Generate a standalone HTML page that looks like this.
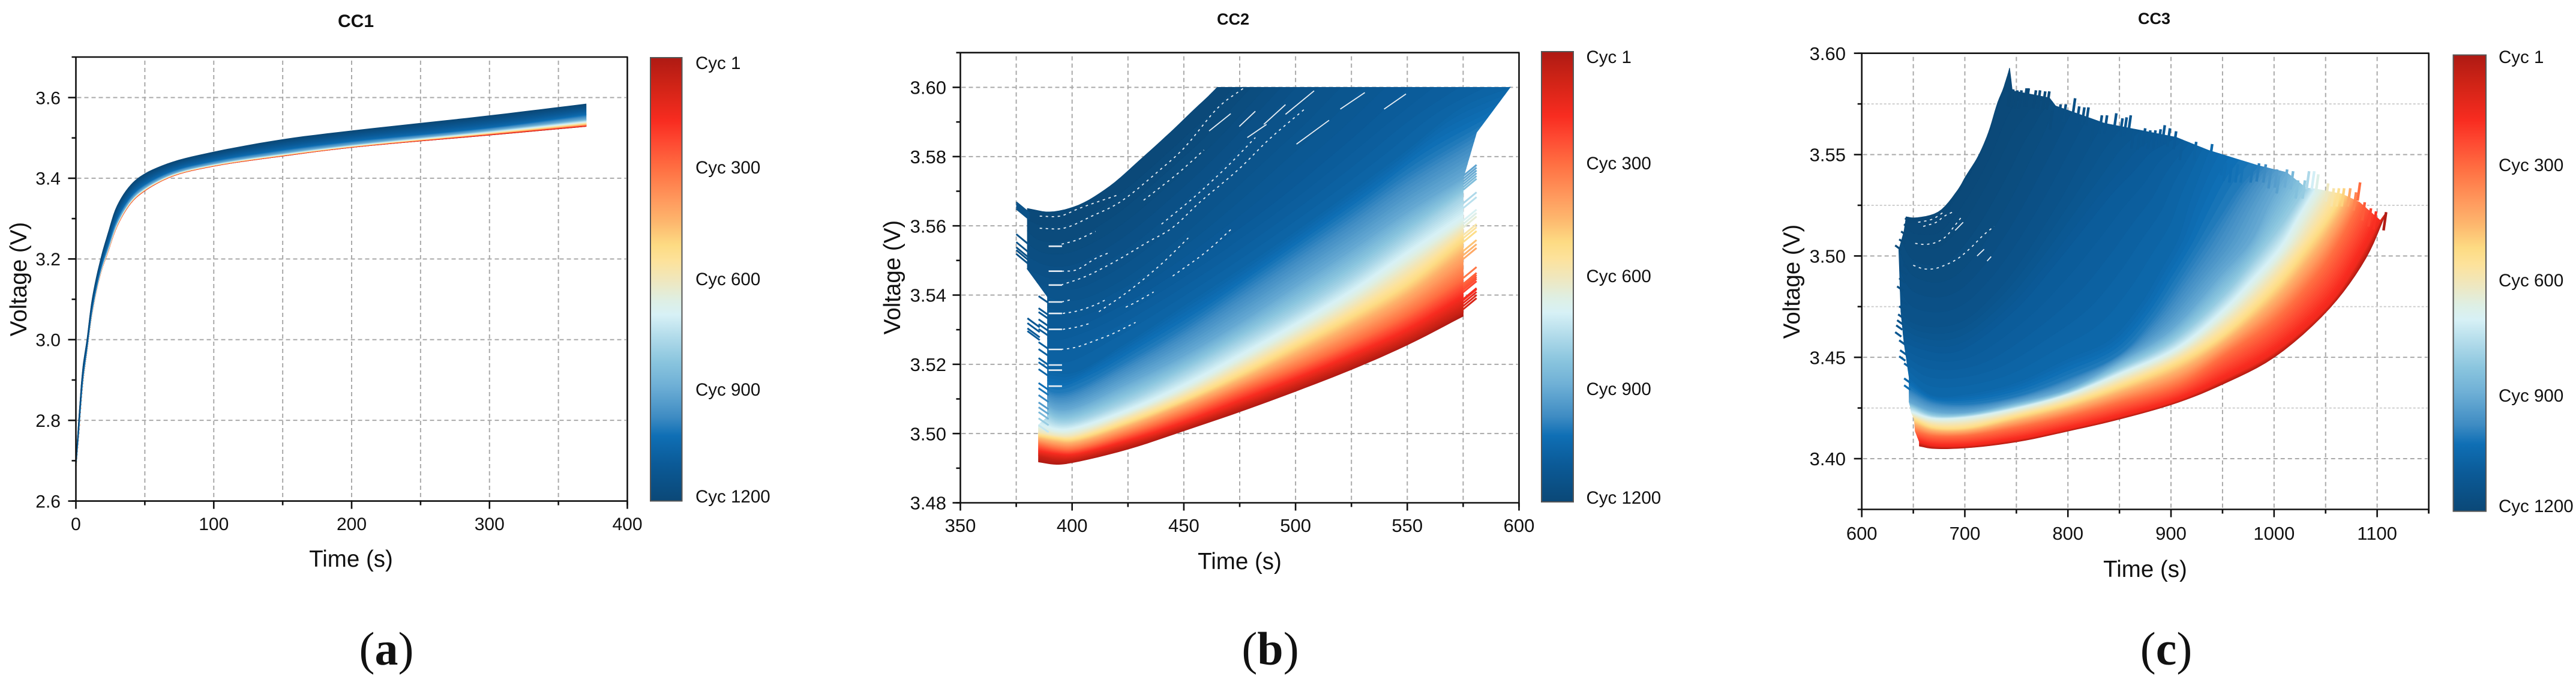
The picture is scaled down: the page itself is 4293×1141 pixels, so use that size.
<!DOCTYPE html>
<html lang="en">
<head>
<meta charset="utf-8">
<title>CC1, CC2, CC3 voltage curves by cycle</title>
<style>
html,body{margin:0;padding:0;background:#fff;width:4293px;height:1141px;overflow:hidden}
svg{display:block}
text{font-family:"Liberation Sans",Arial,sans-serif;fill:#111}
.title{font-weight:700;text-anchor:middle}
.axt{font-size:38.5px;text-anchor:middle}
.leg{font-size:29.5px}
.cap{font-family:"Liberation Serif",serif;font-size:78px;text-anchor:middle}
</style>
</head>
<body>
<svg id="fig" xmlns="http://www.w3.org/2000/svg" width="4293" height="1141" viewBox="0 0 4293 1141">
  <defs>
    <linearGradient id="cbar" x1="0" y1="0" x2="0" y2="1"></linearGradient>
  </defs>
  <rect x="0" y="0" width="4293" height="1141" fill="#fff"/>

  <g id="panelA"></g>
  <g id="panelB"></g>
  <g id="panelC"></g>

  <text class="title" x="593" y="45" font-size="30">CC1</text>
  <text class="title" x="2055" y="41" font-size="27">CC2</text>
  <text class="title" x="3590" y="40" font-size="27">CC3</text>

  <text class="axt" x="585" y="944">Time (s)</text>
  <text class="axt" x="2066" y="948">Time (s)</text>
  <text class="axt" x="3575" y="961">Time (s)</text>
  <text class="axt" transform="translate(44 465) rotate(-90)">Voltage (V)</text>
  <text class="axt" transform="translate(1500 462) rotate(-90)">Voltage (V)</text>
  <text class="axt" transform="translate(2999 469) rotate(-90)">Voltage (V)</text>

  <rect x="1084" y="96" width="52.5" height="738.5" fill="url(#cbar)" stroke="#555" stroke-width="2"/>
  <rect x="2569" y="86" width="53" height="750" fill="url(#cbar)" stroke="#555" stroke-width="2"/>
  <rect x="4088.5" y="91.6" width="54.5" height="760" fill="url(#cbar)" stroke="#555" stroke-width="2"/>

  <g>
    <text class="leg" x="1159" y="115">Cyc 1</text>
    <text class="leg" x="1159" y="289">Cyc 300</text>
    <text class="leg" x="1159" y="475">Cyc 600</text>
    <text class="leg" x="1159" y="659">Cyc 900</text>
    <text class="leg" x="1159" y="837">Cyc 1200</text>
  </g>
  <g>
    <text class="leg" x="2643.5" y="105">Cyc 1</text>
    <text class="leg" x="2643.5" y="282">Cyc 300</text>
    <text class="leg" x="2643.5" y="470">Cyc 600</text>
    <text class="leg" x="2643.5" y="658">Cyc 900</text>
    <text class="leg" x="2643.5" y="839">Cyc 1200</text>
  </g>
  <g>
    <text class="leg" x="4164" y="105">Cyc 1</text>
    <text class="leg" x="4164" y="285">Cyc 300</text>
    <text class="leg" x="4164" y="477">Cyc 600</text>
    <text class="leg" x="4164" y="669">Cyc 900</text>
    <text class="leg" x="4164" y="853">Cyc 1200</text>
  </g>

  <text class="cap" x="644" y="1107">(<tspan font-weight="700">a</tspan>)</text>
  <text class="cap" x="2117" y="1107">(<tspan font-weight="700">b</tspan>)</text>
  <text class="cap" x="3610" y="1107">(<tspan font-weight="700">c</tspan>)</text>
</svg>

<script>
/* ---------- colour scale (fraction along the colour bar, top to bottom) ---------- */
const cmapPos = [0,0.06,0.143,0.192,0.25,0.326,0.37,0.423,0.459,0.503,0.548,0.58,0.635,0.686,0.739,0.81,0.853,0.918,1];
const cmapHex = ['#ae1a14','#ce2316','#f82c20','#fe4a32','#ff6f42','#ff9c5f','#fdb66d','#fddb83','#fde29b','#efe7be','#deefe4','#d7f1f6','#aed9e9','#8ac5de','#6fb0d6','#3f8cc3','#0f6fb5','#0b5a97','#0b4877'];

/* ---------- CC1 data ---------- */
const cc1XTicks = [0,100,200,300,400];
const cc1YTicks = [2.6,2.8,3.0,3.2,3.4,3.6];
const cc1Cycles = [1,300,520,680,900,1050,1200];
const cc1Time = [0,2,5,8,12,18,23,30,40,50,70,100,150,200,300,370];
const cc1V0001 = [2.68,2.76,2.89,2.97,3.07,3.165,3.215,3.282,3.339,3.369,3.405,3.43,3.455,3.4765,3.507,3.5286];
const cc1V0300 = [2.6806,2.7612,2.8912,2.9709,3.071,3.166,3.2164,3.2835,3.3404,3.3703,3.406,3.431,3.4562,3.4777,3.5095,3.5315];
const cc1V0520 = [2.6812,2.7624,2.8924,2.9718,3.0721,3.1671,3.2177,3.285,3.3417,3.3715,3.4071,3.4321,3.4575,3.479,3.5115,3.5355];
const cc1V0680 = [2.682,2.764,2.894,2.973,3.0735,3.1685,3.2195,3.287,3.3435,3.3732,3.4085,3.4335,3.4591,3.4806,3.5145,3.54];
const cc1V0900 = [2.684,2.768,2.898,2.976,3.077,3.172,3.224,3.292,3.348,3.3774,3.412,3.437,3.4632,3.4847,3.5195,3.547];
const cc1V1050 = [2.6884,2.7768,2.9068,2.9826,3.0847,3.1797,3.2339,3.303,3.3579,3.3866,3.4197,3.4447,3.4722,3.4937,3.5272,3.56];
const cc1V1200 = [2.7,2.8,2.93,3.0,3.105,3.2,3.26,3.332,3.384,3.411,3.44,3.465,3.496,3.5175,3.555,3.584];

/* ---------- CC2 data ---------- */
const cc2XTicks = [350,400,450,500,550,600];
const cc2YTicks = [3.48,3.50,3.52,3.54,3.56,3.58,3.60];
const cc2Cycles = [1,60,150,300,420,520,600,680,780,900,1000,1060,1100,1130,1150,1180,1200];
const cc2TLow = [385,393,400,425,450,475,500,525,550,575];
const cc2TMid = [389,393,400,425,450,475,500,525,550,575];
const cc2V0001 = [3.4918,3.4911,3.4916,3.4955,3.5008,3.5063,3.5122,3.5185,3.5256,3.5339];
const cc2V0060 = [3.4935,3.4925,3.4925,3.4965,3.5017,3.5075,3.5135,3.52,3.527,3.5355];
const cc2V0150 = [3.4948,3.494,3.4938,3.4978,3.503,3.5092,3.5155,3.5222,3.5295,3.539];
const cc2V0300 = [3.497,3.4958,3.4955,3.5,3.5058,3.5125,3.519,3.5262,3.5345,3.545];
const cc2V0420 = [3.4985,3.4975,3.4972,3.502,3.5082,3.515,3.5225,3.5305,3.5395,3.5515];
const cc2V0520 = [3.4997,3.4988,3.4985,3.5035,3.5098,3.5172,3.5255,3.534,3.5435,3.5564];
const cc2V0600 = [3.5005,3.4995,3.4995,3.505,3.5115,3.5195,3.528,3.537,3.5475,3.5592];
const cc2V0680 = [3.5025,3.501,3.5012,3.5065,3.5135,3.522,3.531,3.5405,3.5515,3.562];
const cc2V0780 = [3.5048,3.5035,3.5035,3.5095,3.5175,3.5265,3.5355,3.5455,3.557,3.5685];
const cc2V0900 = [3.5082,3.507,3.5072,3.5145,3.5225,3.532,3.5425,3.553,3.564,3.5738];
const cc2T1000 = [389,393,400,425,450,475,500,525,550,581];
const cc2V1000 = [3.5125,3.5118,3.5125,3.521,3.5305,3.5415,3.5525,3.5635,3.575,3.587];
const cc2T1060 = [389,400,425,450,475,500,525,550,575,596];
const cc2V1060 = [3.518,3.5175,3.5265,3.537,3.5475,3.5585,3.57,3.582,3.5945,3.6];
const cc2T1100 = [389,392,400,425,450,470,490,510,530,550];
const cc2V1100 = [3.5305,3.5303,3.5305,3.538,3.548,3.557,3.5665,3.577,3.588,3.6];
const cc2T1130 = [389,395,405,420,435,450,470,490,505,520];
const cc2V1130 = [3.5395,3.5385,3.539,3.5435,3.55,3.5575,3.569,3.581,3.59,3.6];
const cc2T1150 = [380,390,400,415,430,450,465,480,490,500];
const cc2V1150 = [3.5475,3.545,3.545,3.5495,3.556,3.567,3.576,3.586,3.593,3.6];
const cc2T1180 = [380,385,395,405,420,435,450,460,470,480];
const cc2V1180 = [3.5585,3.556,3.5555,3.5575,3.5635,3.5715,3.58,3.586,3.593,3.6];
const cc2T1200 = [380,390,403,417,430,444,455,460,463,465];
const cc2V1200 = [3.565,3.564,3.566,3.5715,3.5788,3.587,3.5938,3.5968,3.5987,3.6];
const cc2LeftToothA = [3.5668,3.5662,3.5656,3.565,3.5576,3.5553,3.5538,3.553,3.5519];
const cc2LeftToothB = [3.5333,3.5319,3.5304,3.5296];
const cc2LeftToothC = [3.5397,3.5362,3.5351,3.533,3.5316,3.5302,3.5264,3.5244,3.5218,3.5206,3.5186,3.5146,3.5131,3.5111,3.509,3.5076,3.5062,3.5044,3.5024];
const cc2RightTooth = [3.5359,3.5368,3.5377,3.5385,3.5388,3.5408,3.5415,3.542,3.5426,3.5432,3.5449,3.5504,3.5515,3.5527,3.5553,3.5564,3.5573,3.5595,3.5605,3.5615,3.5651,3.5665,3.5704,3.5712,3.572,3.5728,3.5736,3.5744];
const cc2FlatGaps = [3.5541,3.5469,3.5429,3.538,3.5347,3.5301,3.5243,3.5198,3.5183,3.5137];
const cc2DottedGaps = [
  [395,3.5429,406.1,3.5454,419.5,3.5498,433.8,3.5553,444.6,3.5593,457.1,3.5668,475,3.5766,488,3.5849,504,3.5937],
  [395.3,3.5547,401.6,3.5558,410.5,3.5584],
  [395.3,3.5469,401.6,3.5472,410.5,3.5506,416,3.5521],
  [395.3,3.538,400.3,3.5388],
  [395.8,3.5347,401.6,3.5353,409.7,3.537,414.6,3.5385],
  [395.8,3.5301,401.6,3.5307,407.9,3.5318],
  [395,3.5243,401.6,3.5249,410.5,3.5269,417.7,3.5287,428.4,3.5321],
  [424,3.5365,428.4,3.5379,436.5,3.5409],
  [385.5,3.5593,396.2,3.5593,408.8,3.5628,421.3,3.5668,439.2,3.5761,450,3.5824,466,3.5946,476.8,3.5998],
  [385.5,3.5628,394.5,3.5628,403.4,3.5651,421.3,3.5691],
  [432,3.5674,448,3.5755,459,3.5819],
  [440,3.5605,455,3.5685,470,3.5775,482,3.5855],
  [412,3.5352,425,3.541,440,3.549,452,3.5565],
  [445,3.5455,460,3.5525,472,3.5595]
];
const cc2SlashGaps = [
  [539.6,3.5937,549.4,3.5981],[520,3.5937,531,3.5985],[495.5,3.5922,508.3,3.599],
  [485.8,3.5893,495.5,3.595],[474.8,3.5887,482,3.5931],[500.4,3.5836,515,3.5905],
  [461.3,3.5874,471,3.5924],[478.4,3.5855,487,3.5893]
];

/* ---------- CC3 data ---------- */
const cc3XTicks = [600,700,800,900,1000,1100];
const cc3YTicks = [3.40,3.45,3.50,3.55,3.60];
const cc3Cycles = [1,150,300,520,680,800,900,1000,1050,1100,1140,1170,1190,1197,1200];
const cc3T0001 = [656,668,700,750,800,850,907,950,1000,1054,1089,1109];
const cc3V0001 = [3.4062,3.4051,3.4053,3.4083,3.4136,3.4195,3.4278,3.4367,3.45,3.4743,3.4989,3.5216];
const cc3T0150 = [656,668,700,750,800,850,907,950,1000,1054,1086,1103];
const cc3V0150 = [3.4082,3.4066,3.4064,3.4095,3.4147,3.4207,3.429,3.4388,3.4525,3.4765,3.5015,3.5175];
const cc3T0300 = [652,668,700,750,800,850,907,950,1000,1045,1066,1083];
const cc3V0300 = [3.4135,3.4115,3.4115,3.4155,3.421,3.4278,3.4367,3.4505,3.468,3.493,3.5098,3.5264];
const cc3T0520 = [651,668,700,750,800,850,907,950,1000,1035,1054,1066];
const cc3V0520 = [3.4195,3.4158,3.4154,3.421,3.4273,3.4358,3.4477,3.461,3.4845,3.5068,3.5205,3.5305];
const cc3T0680 = [648,668,700,750,800,850,907,950,977,1006,1023,1041];
const cc3V0680 = [3.423,3.42,3.4204,3.4249,3.4317,3.4417,3.4545,3.472,3.4861,3.5028,3.5176,3.533];
const cc3T0800 = [647,668,700,750,800,850,900,950,977,1006,1020,1031];
const cc3V0800 = [3.426,3.4215,3.4215,3.4262,3.433,3.4445,3.4575,3.48,3.4959,3.5146,3.525,3.5335];
const cc3T0900 = [646,668,700,750,800,850,900,950,977,996,1005,1012];
const cc3V0900 = [3.428,3.4235,3.4228,3.4278,3.4346,3.4477,3.4635,3.4915,3.5068,3.5264,3.535,3.5412];
const cc3T1000 = [646,668,700,750,800,850,880,907,930,948,967,985];
const cc3V1000 = [3.4345,3.4285,3.4269,3.4308,3.4397,3.4515,3.4675,3.4875,3.5055,3.5195,3.5344,3.5445];
const cc3T1050 = [646,668,700,750,800,840,870,890,907,918,930,937];
const cc3V1050 = [3.44,3.4315,3.4317,3.4376,3.4494,3.4585,3.476,3.493,3.5085,3.5264,3.543,3.552];
const cc3T1100 = [641,655,680,700,750,790,820,845,865,880,895,905];
const cc3V1100 = [3.4575,3.4545,3.452,3.4545,3.474,3.4975,3.5165,3.532,3.5425,3.551,3.5555,3.5585];
const cc3T1140 = [638,650,675,700,730,755,780,795,810,820,828,835];
const cc3V1140 = [3.4725,3.467,3.465,3.4685,3.482,3.498,3.5175,3.53,3.544,3.553,3.56,3.5655];
const cc3T1170 = [636,648,672,690,710,730,750,765,775,782,785,788];
const cc3V1170 = [3.503,3.491,3.487,3.49,3.5005,3.5155,3.5335,3.549,3.559,3.567,3.5705,3.574];
const cc3T1190 = [641,650,672,688,705,720,735,748,758,766,775,782];
const cc3V1190 = [3.512,3.506,3.504,3.51,3.5215,3.5345,3.549,3.562,3.569,3.574,3.577,3.578];
const cc3T1197 = [642.5,651,674,692,700,712,722,731,737,740,743,746];
const cc3V1197 = [3.517,3.5165,3.5185,3.5295,3.5365,3.5465,3.558,3.5725,3.5795,3.581,3.5815,3.5815];
const cc3T1200 = [643,651,674,693,701,713,723,732,737,740,742,743.4];
const cc3V1200 = [3.5193,3.5188,3.5216,3.5324,3.5393,3.5492,3.561,3.5758,3.582,3.5867,3.59,3.5927];
const cc3TopToothT = [744,747,751,755,760,762,769,773,778,782,785,793,798,807,811,816,820,825,833,838,847,853,857,861,864,870,875,880,885,890,894,899,905,911,924.5,940,951,953.5,959,965,970,979.7,985.5,992,997,1003,1005,1012.7,1018.5,1023.4,1030,1034,1039,1043,1052.5,1058,1063,1068,1074,1079.6,1083.5,1088,1094,1099,1108.7];
const cc3TopToothV = [3.5827,3.5822,3.5817,3.5817,3.5827,3.5827,3.5817,3.5817,3.5812,3.5812,3.5714,3.5748,3.5748,3.5778,3.5738,3.5733,3.5733,3.5655,3.5694,3.5694,3.5704,3.5679,3.5684,3.5694,3.562,3.5615,3.563,3.562,3.562,3.5625,3.5645,3.563,3.5615,3.5563,3.5563,3.5552,3.5488,3.5462,3.5452,3.5452,3.5452,3.5452,3.5457,3.5452,3.5423,3.5427,3.5398,3.5427,3.5418,3.5373,3.5373,3.5418,3.5418,3.5403,3.5358,3.5334,3.5334,3.5334,3.5334,3.5314,3.5363,3.5265,3.5235,3.522,3.5216];
const cc3LeftToothT = [632.4,636.3,638.2,641,642,640,638.2,636.3,634.3,638.2,636.3,635.3,634.3,633.4,632.4,636.3,637.2,636.3,641.1,641.1,641.1];
const cc3LeftToothV = [3.5052,3.5082,3.5121,3.5156,3.5186,3.4959,3.493,3.489,3.485,3.4781,3.4752,3.4712,3.4683,3.4658,3.4624,3.4584,3.4535,3.4505,3.447,3.4396,3.4362];
const cc3DottedGaps = [
  [649.9,3.4954,659.6,3.4937,670.2,3.4937,681.9,3.4957,693.5,3.4988,707.1,3.5047,717.8,3.5102,728.4,3.5146],
  [651.8,3.5062,661.5,3.5057,672.2,3.5067,681.9,3.5097,689.6,3.5146,697.4,3.5196],
  [659.6,3.5146,672.2,3.5166,680,3.5196,689.6,3.522],
  [654.7,3.5166,668.3,3.5181,679,3.5215]
];
const cc3SlashGaps = [[690.6,3.5126,698.4,3.5166],[711.9,3.5,718.7,3.5033],[721.6,3.4975,725.5,3.4997]];

/* ---------- helpers ---------- */
const NS = 'http://www.w3.org/2000/svg';
function mk(tag, attrs, parent){
  const e = document.createElementNS(NS, tag);
  for (const k in attrs) e.setAttribute(k, attrs[k]);
  parent.appendChild(e);
  return e;
}
function linear(d0,d1,r0,r1){ return v => r0 + (v-d0)*(r1-r0)/(d1-d0); }
function hexRgb(h){ return [parseInt(h.slice(1,3),16),parseInt(h.slice(3,5),16),parseInt(h.slice(5,7),16)]; }
function colorAt(f){
  f = Math.max(0,Math.min(1,f));
  let i = 0;
  while (i < cmapPos.length-2 && f > cmapPos[i+1]) i++;
  const u = (f-cmapPos[i])/(cmapPos[i+1]-cmapPos[i]);
  const a = hexRgb(cmapHex[i]), b = hexRgb(cmapHex[i+1]);
  return 'rgb('+a.map((c,j)=>Math.round(c+(b[j]-c)*u)).join(',')+')';
}
function cycleColor(c){ return colorAt((c-1)/1199); }

const cbarStops = document.getElementById('cbar');
cmapPos.forEach((p,i)=>{ mk('stop',{offset:p,'stop-color':cmapHex[i]},cbarStops); });

/* centripetal Catmull-Rom through measured points, in pixel space */
function smooth(pts, n){
  const out = [];
  const get = i => pts[Math.max(0,Math.min(pts.length-1,i))];
  for (let i=0;i<pts.length-1;i++){
    let p0=get(i-1),p1=get(i),p2=get(i+1),p3=get(i+2);
    if (i===0) p0=[2*p1[0]-p2[0],2*p1[1]-p2[1]];
    if (i===pts.length-2) p3=[2*p2[0]-p1[0],2*p2[1]-p1[1]];
    const d=(a,b)=>Math.max(1e-3,Math.pow(Math.hypot(a[0]-b[0],a[1]-b[1]),0.5));
    const t0=0,t1=t0+d(p0,p1),t2=t1+d(p1,p2),t3=t2+d(p2,p3);
    const L=(a,b,ta,tb,t)=>[a[0]+(b[0]-a[0])*(t-ta)/(tb-ta),a[1]+(b[1]-a[1])*(t-ta)/(tb-ta)];
    for (let k=0;k<n;k++){
      const t=t1+(t2-t1)*k/n;
      const A1=L(p0,p1,t0,t1,t),A2=L(p1,p2,t1,t2,t),A3=L(p2,p3,t2,t3,t);
      const B1=L(A1,A2,t0,t2,t),B2=L(A2,A3,t1,t3,t);
      out.push(L(B1,B2,t1,t2,t));
    }
  }
  out.push(pts[pts.length-1].slice());
  return out;
}
function fmtPoly(pts){ return pts.map(p=>p[0].toFixed(1)+' '+p[1].toFixed(1)).join('L'); }

function drawFan(g, rows, cycles, X, Y, minY){
  const dense = rows.map(r => smooth(r[0].map((t,i)=>[X(t),Y(r[1][i])]),6));
  for (let i=0;i<dense.length-1;i++){
    const S = Math.max(2,Math.ceil((cycles[i+1]-cycles[i])/10));
    for (let k=0;k<S;k++){
      const u0=k/S,u1=(k+1)/S;
      const mix=u=>dense[i].map((p,j)=>{
        const q=dense[i+1][j];
        const y=p[1]+(q[1]-p[1])*u;
        return [p[0]+(q[0]-p[0])*u, minY===undefined?y:Math.max(minY,y)];
      });
      const low=mix(u0),up=mix(u1).reverse();
      const col=cycleColor(cycles[i]+(cycles[i+1]-cycles[i])*(u0+u1)/2);
      const band=mk('path',{d:'M'+fmtPoly(low)+'L'+fmtPoly(up)+'Z',fill:col,stroke:col,'stroke-width':1.1},g);
      
      
    }
  }
}
function voltageOn(row,t){
  const T=row[0],V=row[1];
  if (t<=T[0]) return V[0];
  for (let i=0;i<T.length-1;i++){
    if (t<=T[i+1]) return V[i]+(V[i+1]-V[i])*(t-T[i])/(T[i+1]-T[i]);
  }
  return V[V.length-1];
}
function cycleAt(rows,cycles,t,v){
  let prev=voltageOn(rows[0],t);
  if (v<=prev) return cycles[0];
  for (let i=1;i<rows.length;i++){
    const cur=voltageOn(rows[i],t);
    if (v<=cur) return cycles[i-1]+(cycles[i]-cycles[i-1])*(v-prev)/Math.max(1e-6,cur-prev);
    prev=cur;
  }
  return cycles[cycles.length-1];
}
function cycleAtEnd(rows,cycles,t){
  for (let i=0;i<rows.length-1;i++){
    const a=rows[i][0][rows[i][0].length-1],b=rows[i+1][0][rows[i+1][0].length-1];
    if (t<=a && t>=b) return cycles[i]+(cycles[i+1]-cycles[i])*(a-t)/Math.max(1e-6,a-b);
  }
  return t>rows[0][0][rows[0][0].length-1]?cycles[0]:cycles[cycles.length-1];
}
function drawAxes(g,o){
  const gridCol='#a9a9a9';
  o.xGrid.forEach(v=>{
    const l=mk('line',{x1:o.X(v),x2:o.X(v),y1:o.top+6,y2:o.bottom,stroke:gridCol,'stroke-width':2,'stroke-dasharray':'7 5'},g);
    
    
  });
  o.yGrid.forEach(v=>{
    const l=mk('line',{x1:o.left+2,x2:o.right-2,y1:o.Y(v),y2:o.Y(v),stroke:gridCol,'stroke-width':2,'stroke-dasharray':'7 5'},g);
    
    
  });
  (o.yGridMinor||[]).forEach(v=>{
    const l=mk('line',{x1:o.left+2,x2:o.right-2,y1:o.Y(v),y2:o.Y(v),stroke:'#cfcfcf','stroke-width':2,'stroke-dasharray':'4 3'},g);
    
    
  });
}
function drawFrame(g,o){
  const ax={stroke:'#111','stroke-width':2.6};
  const frame=[[o.left,o.top,o.left,o.bottom],[o.left-7,o.bottom,o.right+1,o.bottom],[o.left-7,o.top,o.right+1,o.top],[o.right,o.top,o.right,o.bottom+7]];
  frame.forEach(f=>{
    const l=mk('line',Object.assign({x1:f[0],y1:f[1],x2:f[2],y2:f[3]},ax),g);
    
    
  });
  o.xMinor.forEach(v=>{
    const l=mk('line',Object.assign({x1:o.X(v),x2:o.X(v),y1:o.bottom,y2:o.bottom+7},ax),g);
    
    
  });
  o.yMinor.forEach(v=>{
    const l=mk('line',Object.assign({x1:o.left-7,x2:o.left,y1:o.Y(v),y2:o.Y(v)},ax),g);
    
    
  });
  o.xTicks.forEach(v=>{
    const l=mk('line',Object.assign({x1:o.X(v),x2:o.X(v),y1:o.bottom,y2:o.bottom+13},ax),g);
    
    
    const t=mk('text',{x:o.X(v),y:o.xLabelY+o.size*0.36,'text-anchor':'middle','font-size':o.size},g);
    t.textContent=String(v);
    
    
  });
  o.yTicks.forEach(v=>{
    const l=mk('line',Object.assign({x1:o.left-13,x2:o.left,y1:o.Y(v),y2:o.Y(v)},ax),g);
    
    
    const t=mk('text',{x:o.yLabelX,y:o.Y(v)+o.size*0.36,'text-anchor':'end','font-size':o.size},g);
    t.textContent=v.toFixed(o.dec);
    
    
  });
}
function drawTooth(g,X,Y,t0,v0,t1,v1,col,w){
  const l=mk('line',{x1:X(t0),y1:Y(v0),x2:X(t1),y2:Y(v1),stroke:col,'stroke-width':w},g);
  
  
}
function drawGap(g,X,Y,flat,dash,w){
  const pts=[];
  for (let i=0;i<flat.length;i+=2) pts.push([X(flat[i]),Y(flat[i+1])]);
  const attrs={d:'M'+fmtPoly(pts.length>2?smooth(pts,5):pts),fill:'none',stroke:'#e8eef4','stroke-width':w};
  if (dash) attrs['stroke-dasharray']=dash;
  const l=mk('path',attrs,g);
  
  
}

/* ---------- panel A ---------- */
(function(){
  const g=document.getElementById('panelA');
  const X=linear(0,400,126.5,1045.5), Y=linear(2.6,3.6,834.6,162.5);
  const o={X,Y,left:126.5,right:1045.5,top:95,bottom:834.6,size:30,dec:1,xLabelY:872,yLabelX:101,
    xTicks:cc1XTicks,yTicks:cc1YTicks,xMinor:[50,150,250,350],yMinor:[2.7,2.9,3.1,3.3,3.5],
    xGrid:[50,100,150,200,250,300,350],yGrid:[2.8,3.0,3.2,3.4,3.6]};
  drawAxes(g,o);
  const rows=[cc1V0001,cc1V0300,cc1V0520,cc1V0680,cc1V0900,cc1V1050,cc1V1200].map(v=>[cc1Time,v]);
  drawFan(g,rows,cc1Cycles,X,Y);
  drawFrame(g,o);
})();

/* ---------- panel B ---------- */
(function(){
  const g=document.getElementById('panelB');
  const X=linear(350,600,1600.5,2531.5), Y=linear(3.48,3.6,837.5,145.5);
  const o={X,Y,left:1600.5,right:2531.5,top:87.7,bottom:837.5,size:31,dec:2,xLabelY:875,yLabelX:1577,
    xTicks:cc2XTicks,yTicks:cc2YTicks,xMinor:[375,425,475,525,575],yMinor:[3.49,3.51,3.53,3.55,3.57,3.59],
    xGrid:[375,400,425,450,475,500,525,550,575],yGrid:[3.5,3.52,3.54,3.56,3.58,3.6]};
  drawAxes(g,o);
  const rows=[[cc2TLow,cc2V0001],[cc2TLow,cc2V0060],[cc2TLow,cc2V0150],[cc2TLow,cc2V0300],[cc2TLow,cc2V0420],[cc2TLow,cc2V0520],[cc2TLow,cc2V0600],[cc2TLow,cc2V0680],[cc2TMid,cc2V0780],[cc2TMid,cc2V0900],[cc2T1000,cc2V1000],[cc2T1060,cc2V1060],[cc2T1100,cc2V1100],[cc2T1130,cc2V1130],[cc2T1150,cc2V1150],[cc2T1180,cc2V1180],[cc2T1200,cc2V1200]];
  drawFan(g,rows,cc2Cycles,X,Y,Y(3.6));
  const col=v=>cycleColor(cycleAt(rows,cc2Cycles,392,v));
  cc2LeftToothA.forEach(v=>drawTooth(g,X,Y,375,v,381,v-0.0032,'#0c5288',3));
  cc2LeftToothB.forEach(v=>drawTooth(g,X,Y,380,v,385.5,v-0.0026,col(v),3));
  cc2LeftToothC.forEach(v=>drawTooth(g,X,Y,385,v,389.5,v-0.002,col(v),3));
  cc2RightTooth.forEach(v=>drawTooth(g,X,Y,575,v,581,v+0.0032,cycleColor(cycleAt(rows,cc2Cycles,575,v+0.001)),3));
  cc2FlatGaps.forEach(v=>drawGap(g,X,Y,[389.5,v,395.5,v],null,2.6));
  cc2DottedGaps.forEach(c=>drawGap(g,X,Y,c,'4 6',1.8));
  cc2SlashGaps.forEach(c=>drawGap(g,X,Y,c,null,1.8));
  drawFrame(g,o);
})();

/* ---------- panel C ---------- */
(function(){
  const g=document.getElementById('panelC');
  const X=linear(600,1100,3102.7,3961.6), Y=linear(3.4,3.6,764,88.7);
  const o={X,Y,left:3102.7,right:4047.6,top:88.7,bottom:848.5,size:31,dec:2,xLabelY:888,yLabelX:3076,
    xTicks:cc3XTicks,yTicks:cc3YTicks,xMinor:[650,750,850,950,1050,1150],yMinor:[3.425,3.475,3.525,3.575],
    xGrid:[650,700,750,800,850,900,950,1000,1050,1100],yGrid:[3.4,3.45,3.5,3.55],yGridMinor:[3.425,3.475,3.525,3.575]};
  drawAxes(g,o);
  const rows=[[cc3T0001,cc3V0001],[cc3T0150,cc3V0150],[cc3T0300,cc3V0300],[cc3T0520,cc3V0520],[cc3T0680,cc3V0680],[cc3T0800,cc3V0800],[cc3T0900,cc3V0900],[cc3T1000,cc3V1000],[cc3T1050,cc3V1050],[cc3T1100,cc3V1100],[cc3T1140,cc3V1140],[cc3T1170,cc3V1170],[cc3T1190,cc3V1190],[cc3T1197,cc3V1197],[cc3T1200,cc3V1200]];
  drawFan(g,rows,cc3Cycles,X,Y);
  cc3TopToothT.forEach((t,i)=>{
    const v=cc3TopToothV[i];
    drawTooth(g,X,Y,t-2.5,v-0.009,t,v,cycleColor(cycleAtEnd(rows,cc3Cycles,t)),4.4);
  });
  cc3LeftToothT.forEach((t,i)=>{
    const v=cc3LeftToothV[i];
    drawTooth(g,X,Y,t,v,t+6,v-0.0022,cycleColor(cycleAt(rows,cc3Cycles,650,v)),3.4);
  });
  cc3DottedGaps.forEach(c=>drawGap(g,X,Y,c,'4 6',1.8));
  cc3SlashGaps.forEach(c=>drawGap(g,X,Y,c,null,1.8));
  drawFrame(g,o);
})();
</script>
</body>
</html>
